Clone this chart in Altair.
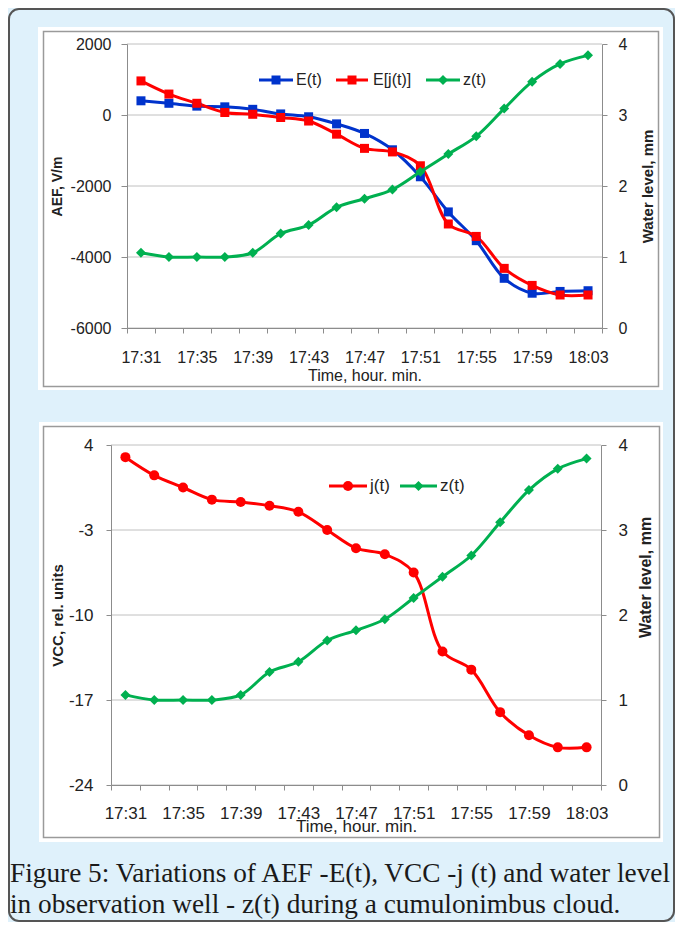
import json
import altair as alt
import pandas as pd

# ---------------- data ----------------
TIMES = ["17:31", "17:33", "17:35", "17:37", "17:39", "17:41", "17:43", "17:45", "17:47",
         "17:49", "17:51", "17:53", "17:55", "17:57", "17:59", "18:01", "18:03"]
TICK_LABELS = ["17:31", "17:35", "17:39", "17:43", "17:47", "17:51", "17:55", "17:59", "18:03"]

E_T = [400, 330, 250, 230, 160, 30, -50, -250, -520, -980, -1740, -2730, -3540, -4600, -5020, -4970, -4950]
E_J = [960, 590, 330, 70, 20, -70, -170, -540, -940, -1040, -1430, -3070, -3420, -4320, -4800, -5070, -5070]
Z_T = [1.06, 1.0, 1.0, 1.0, 1.06, 1.33, 1.45, 1.70, 1.82, 1.95, 2.20, 2.45, 2.70, 3.09, 3.47, 3.72, 3.84]
J_T = [3.0, 1.5, 0.5, -0.5, -0.7, -1.0, -1.5, -3.0, -4.5, -5.0, -6.5, -13.0, -14.5, -18.0, -19.9, -20.9, -20.9]

TOP_SERIES = ["E(t)", "E[j(t)]", "z(t)"]
TOP_COLORS = ["#0033cc", "#ff0000", "#00b050"]
TOP_SHAPES = ["square", "square", "diamond"]
BOTTOM_SERIES = ["j(t)", "z(t)"]
BOTTOM_COLORS = ["#ff0000", "#00b050"]
BOTTOM_SHAPES = ["circle", "diamond"]

AEF_TICKS = [-6000, -4000, -2000, 0, 2000]
VCC_TICKS = [-24, -17, -10, -3, 4]
Z_TICKS = [0, 1, 2, 3, 4]

CAPTION = ["Figure 5: Variations of AEF -E(t), VCC -j (t) and water level",
           "in observation well - z(t) during a cumulonimbus cloud."]

# ---------------- style ----------------
FONT = "Liberation Sans"
TXT = "#222222"
AX = "#8c8c8c"
GRID = "#c0c0c0"
GREEN = "#00b050"

LABEL_X = "indexof(" + json.dumps(TICK_LABELS) + ", datum.value) >= 0 ? datum.value : ''"

TOP_W, TOP_H = 491, 284
TOP_X0 = 16
BOT_W, BOT_H = 490, 340


def x_enc(rng, fs, pad, title_y, title_fs):
    return alt.X(
        "time:N",
        scale=alt.Scale(type="band", domain=TIMES, range=rng, paddingInner=0, paddingOuter=0),
        axis=alt.Axis(title="Time, hour. min.", tickBand="extent", labelExpr=LABEL_X, labelAngle=0,
                      labelFontSize=fs, labelPadding=pad, labelColor=TXT, labelOverlap=False,
                      tickSize=5, tickColor=AX, domainColor=AX, grid=False,
                      titleFontSize=title_fs, titleFontWeight="normal", titleColor=TXT,
                      titleY=title_y, titleBaseline="middle", zindex=1),
    )


def y_axis(title, values, orient, offset, tick, pad, fs, tfs, tx, ty):
    return alt.Axis(title=title, values=values, orient=orient, offset=offset, grid=False,
                    labelExpr="'' + datum.value", tickSize=tick, labelPadding=pad, labelFontSize=fs,
                    labelColor=TXT, labelFlush=False, tickColor=AX, domainColor=AX,
                    titleFontSize=tfs, titleFontWeight="bold", titleColor=TXT, titleAngle=270,
                    titleX=tx, titleY=ty, titleBaseline="middle", titleAlign="center", zindex=1)


def rect(x, x2, y, y2, **kw):
    return alt.Chart(pd.DataFrame({"a": [0]})).mark_rect(**kw).encode(
        x=alt.value(x), x2=alt.value(x2), y=alt.value(y), y2=alt.value(y2))


def legend(names, colors, shapes, sizes, spots, y, fs):
    out = []
    for name, color, shape, size, (x1, x2, tx) in zip(names, colors, shapes, sizes, spots):
        base = alt.Chart(pd.DataFrame({"name": [name]}))
        out.append(base.mark_rule(color=color, strokeWidth=3).encode(
            x=alt.value(x1), x2=alt.value(x2), y=alt.value(y)))
        out.append(base.mark_point(shape=shape, filled=True, size=size, color=color, opacity=1).encode(
            x=alt.value((x1 + x2) / 2), y=alt.value(y)))
        out.append(base.mark_text(align="left", baseline="middle", fontSize=fs, color=TXT).encode(
            x=alt.value(tx), y=alt.value(y), text="name:N"))
    return out


# ---------------- top chart ----------------
x_top = x_enc([TOP_X0, TOP_W], 16, 16, 47, 16)
y_aef = alt.Y("value:Q", scale=alt.Scale(domain=[-6000, 2000], nice=False, zero=False),
              axis=y_axis("AEF, V/m", AEF_TICKS, "left", -TOP_X0, 6, 10, 16, 14, -70, TOP_H / 2))
y_z_top = alt.Y("z:Q", scale=alt.Scale(domain=[0, 4], nice=False),
                axis=y_axis("Water level, mm", Z_TICKS, "right", 0, 5, 11, 16, 15, 45, TOP_H / 2))

top_df = pd.DataFrame({
    "time": TIMES + TIMES,
    "series": [TOP_SERIES[0]] * len(TIMES) + [TOP_SERIES[1]] * len(TIMES),
    "value": E_T + E_J,
})
z_df = pd.DataFrame({"time": TIMES, "z": Z_T})

top_color = alt.Color("series:N", scale=alt.Scale(domain=TOP_SERIES[:2], range=TOP_COLORS[:2]), legend=None)

top_inner = alt.layer(
    rect(-73, 552, -17, 346, fill="white"),
    rect(-67.5, 547.5, -12.5, 342.5, fill="transparent", stroke="#9a9a9a", strokeWidth=1.5),
    alt.Chart(pd.DataFrame({"value": AEF_TICKS})).mark_rule(color=GRID, strokeWidth=1).encode(
        y=y_aef, x=alt.value(TOP_X0), x2=alt.value(TOP_W)),
    alt.Chart(top_df).mark_line(strokeWidth=3, interpolate="catmull-rom").encode(
        x=x_top, y=y_aef, color=top_color),
    alt.Chart(top_df).mark_point(shape="square", filled=True, size=81, opacity=1).encode(
        x=x_top, y=y_aef, color=top_color),
)
top_z = alt.layer(
    alt.Chart(z_df).mark_line(color=GREEN, strokeWidth=3, interpolate="catmull-rom").encode(x=x_top, y=y_z_top),
    alt.Chart(z_df).mark_point(shape="diamond", filled=True, size=100, color=GREEN, opacity=1).encode(
        x=x_top, y=y_z_top),
)
top = alt.layer(
    top_inner, top_z,
    *legend(TOP_SERIES, TOP_COLORS, TOP_SHAPES, [81, 81, 100],
            [(148, 182, 185), (225, 257, 262), (315, 349, 352)], 36, 16),
).resolve_scale(y="independent").properties(width=TOP_W, height=TOP_H)

# ---------------- bottom chart ----------------
x_bot = x_enc([0, BOT_W], 17, 15, 41, 17)
y_vcc = alt.Y("value:Q", scale=alt.Scale(domain=[-24, 4], nice=False, zero=False),
              axis=y_axis("VCC, rel. units", VCC_TICKS, "left", 0, 5, 13, 17, 15, -54, BOT_H / 2))
y_z_bot = alt.Y("z:Q", scale=alt.Scale(domain=[0, 4], nice=False),
                axis=y_axis("Water level, mm", Z_TICKS, "right", 0, 5, 12, 17, 16, 44, 132))

j_df = pd.DataFrame({"time": TIMES, "value": J_T})

bot_inner = alt.layer(
    rect(-72, 552, -23, 397, fill="white"),
    rect(-67.5, 548.5, -18.5, 392.5, fill="transparent", stroke="#9a9a9a", strokeWidth=1.5),
    alt.Chart(pd.DataFrame({"value": VCC_TICKS})).mark_rule(color=GRID, strokeWidth=1).encode(
        y=y_vcc, x=alt.value(0), x2=alt.value(BOT_W)),
    alt.Chart(j_df).mark_line(color="#ff0000", strokeWidth=3, interpolate="catmull-rom").encode(x=x_bot, y=y_vcc),
    alt.Chart(j_df).mark_point(shape="circle", filled=True, size=100, color="#ff0000", opacity=1).encode(
        x=x_bot, y=y_vcc),
)
bot_z = alt.layer(
    alt.Chart(z_df).mark_line(color=GREEN, strokeWidth=3, interpolate="catmull-rom").encode(x=x_bot, y=y_z_bot),
    alt.Chart(z_df).mark_point(shape="diamond", filled=True, size=100, color=GREEN, opacity=1).encode(
        x=x_bot, y=y_z_bot),
)
caption = alt.Chart(pd.DataFrame({"a": [0]})).mark_text(
    text=CAPTION, align="left", baseline="alphabetic", fontSize=27.3, font="Liberation Serif",
    lineHeight=31, color="#1a1a1a").encode(x=alt.value(-101), y=alt.value(437))
outer = rect(-102, 563, -436, 476, fill="transparent", stroke="#555555", strokeWidth=2, cornerRadius=10)

bottom = alt.layer(
    bot_inner, bot_z,
    *legend(BOTTOM_SERIES, BOTTOM_COLORS, BOTTOM_SHAPES, [100, 100],
            [(218, 256, 259), (289, 326, 329)], 41, 17),
    caption, outer,
).resolve_scale(y="independent").properties(width=BOT_W, height=BOT_H)

chart = alt.vconcat(top, bottom, spacing=117, bounds="flush").properties(padding=0).configure(
    background="#dff1fb", font=FONT).configure_view(strokeWidth=0)

chart.save("out.html", embed_options={"renderer": "svg", "actions": False})
